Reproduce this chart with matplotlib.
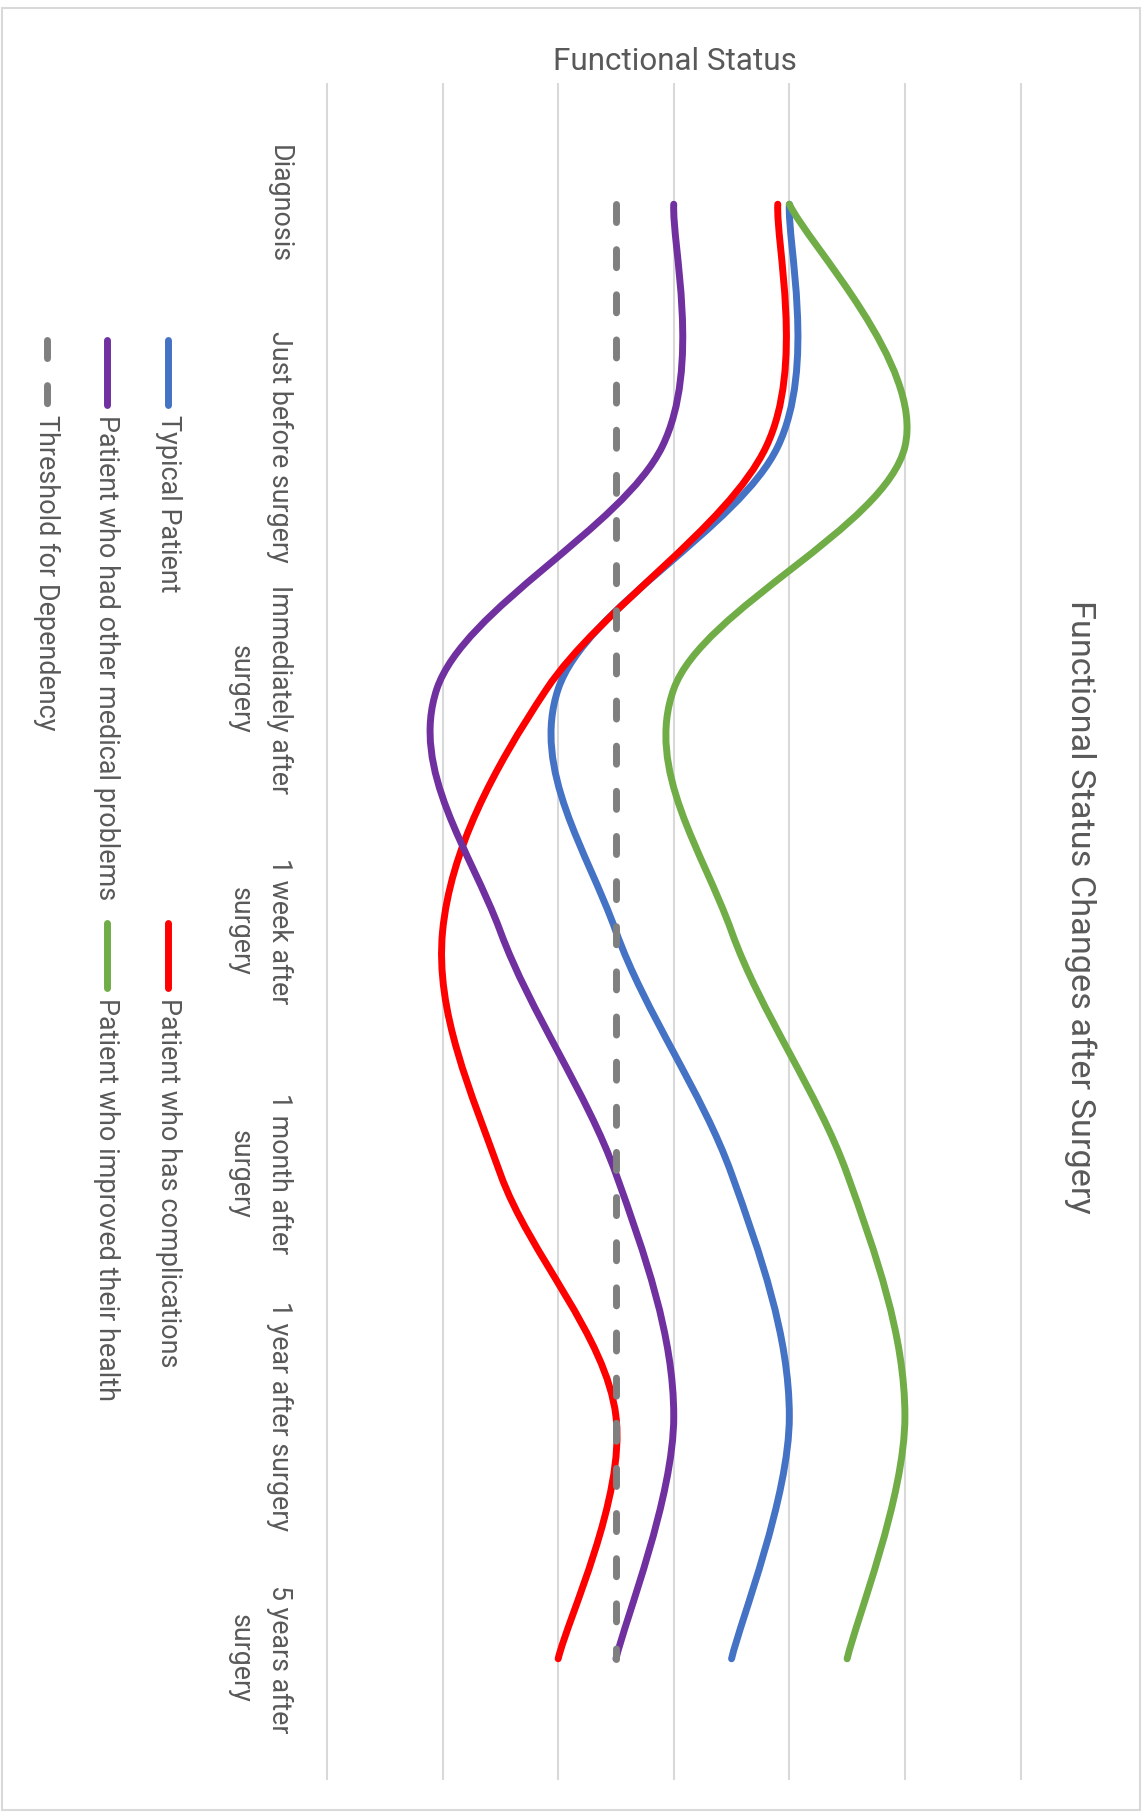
"""Functional status changes after surgery, drawn as a chart turned a quarter turn clockwise."""

import matplotlib

matplotlib.use("Agg")
import matplotlib.pyplot as plt
from matplotlib import font_manager
from matplotlib.lines import Line2D
from matplotlib.patches import PathPatch, Rectangle
from matplotlib.path import Path

W, H = 1143, 1813

categories = [
    "Diagnosis",
    "Just before surgery",
    "Immediately after\nsurgery",
    "1 week after\nsurgery",
    "1 month after\nsurgery",
    "1 year after surgery",
    "5 years after\nsurgery",
]
typical = [4.0, 3.9, 2.0, 2.5, 3.5, 4.0, 3.5]
complications = [3.9, 3.8, 1.9, 1.0, 1.5, 2.5, 2.0]
other_problems = [3.0, 2.9, 0.95, 1.5, 2.5, 3.0, 2.5]
improved = [4.0, 5.0, 3.0, 3.5, 4.5, 5.0, 4.5]
threshold = [2.5, 2.5, 2.5, 2.5, 2.5, 2.5, 2.5]
value_ticks = [0, 1, 2, 3, 4, 5, 6]

series_names = [
    "Typical Patient",
    "Patient who has complications",
    "Patient who had other medical problems",
    "Patient who improved their health",
    "Threshold for Dependency",
]
series_colors = ["#4472C4", "#FF0000", "#7030A0", "#70AD47", "#7F7F7F"]
TEXT = "#595959"
GRID = "#D9D9D9"
LW = 5
DASH = (2.6, 3.9)


def pick_font(names):
    for name in names:
        try:
            font_manager.findfont(font_manager.FontProperties(family=name), fallback_to_default=False)
            return name
        except ValueError:
            continue
    return "DejaVu Sans"


def fit_size(fig, text, family, target_px, ref=20):
    # font size that gives the text the wanted length in pixels
    t = fig.text(0, 0, text, fontsize=ref, family=family)
    w = t.get_window_extent(renderer=fig.canvas.get_renderer()).width
    t.remove()
    return ref * target_px / w


def smooth_path(values):
    # Excel style smoothed line: cubic Bezier through the points
    pts = [(v, i) for i, v in enumerate(values)]
    n = len(pts)
    verts = [pts[0]]
    codes = [Path.MOVETO]
    for i in range(n - 1):
        p0 = pts[max(i - 1, 0)]
        p1 = pts[i]
        p2 = pts[i + 1]
        p3 = pts[min(i + 2, n - 1)]
        c1 = (p1[0] + (p2[0] - p0[0]) / 6, p1[1] + (p2[1] - p0[1]) / 6)
        c2 = (p2[0] - (p3[0] - p1[0]) / 6, p2[1] - (p3[1] - p1[1]) / 6)
        verts += [c1, c2, p2]
        codes += [Path.CURVE4] * 3
    return Path(verts, codes)


def fx(px):
    return px / W


def fy(py):
    return 1 - py / H


font = pick_font(["Liberation Sans Narrow", "Roboto", "Open Sans"])

fig = plt.figure(figsize=(W / 100, H / 100), dpi=100)
fig.patch.set_facecolor("white")

# chart border
fig.add_artist(
    Rectangle((fx(2), fy(1810)), fx(1140) - fx(2), fy(8) - fy(1810),
              transform=fig.transFigure, fill=False, edgecolor=GRID, lw=1.5)
)

ax = fig.add_axes([fx(327), fy(1780), fx(1020.5) - fx(327), fy(83) - fy(1780)])
ax.set_xlim(value_ticks[0], value_ticks[-1])
ax.set_ylim(len(categories) - 0.5, -0.5)
for s in ax.spines.values():
    s.set_visible(False)
ax.vlines(value_ticks, -0.5, len(categories) - 0.5, color=GRID, lw=1.5, clip_on=False, zorder=1)
ax.set_xticks([])

label_size = fit_size(fig, "Just before surgery", font, 231)
ax.set_yticks(range(len(categories)))
ax.set_yticklabels(categories, rotation=-90, ha="right", va="center", multialignment="center",
                   color=TEXT, fontsize=label_size, family=font, linespacing=1.6)
ax.tick_params(axis="y", length=0, pad=24.5)

all_series = [typical, complications, other_problems, improved]
for values, color in zip(all_series, series_colors[:4]):
    ax.add_patch(PathPatch(smooth_path(values), fill=False, edgecolor=color, lw=LW,
                           capstyle="round", joinstyle="round", zorder=3))

ax.plot(threshold, range(len(categories)), color=series_colors[4], lw=LW,
        linestyle=(0, DASH), dash_capstyle="round", zorder=4)

# titles
title = "Functional Status Changes after Surgery"
fig.text(fx(1080), fy(907), title, rotation=-90, ha="center", va="center", color=TEXT,
         fontsize=fit_size(fig, title, font, 612), family=font)
fig.text(fx(675), fy(61), "Functional Status", ha="center", va="center", color=TEXT,
         fontsize=fit_size(fig, "Functional Status", font, 243), family=font)

# legend, laid out in turned rows
legend_size = fit_size(fig, "Patient who has complications", font, 368)
row_x = [168, 168, 106.5, 106.5, 46.5]
col_y = [336.6, 919.5, 336.6, 919.5, 336.6]
for name, color, x, y, i in zip(series_names, series_colors, row_x, col_y, range(5)):
    style = (0, DASH) if i == 4 else "-"
    fig.add_artist(Line2D([fx(x), fx(x)], [fy(y + 3.5), fy(y + 68)], transform=fig.transFigure,
                          color=color, lw=LW, linestyle=style, solid_capstyle="round",
                          dash_capstyle="round"))
    fig.text(fx(x), fy(y + 78), name, rotation=-90, ha="center", va="top", color=TEXT,
             fontsize=legend_size, family=font)

fig.savefig("out.png", dpi=100, facecolor="white")
